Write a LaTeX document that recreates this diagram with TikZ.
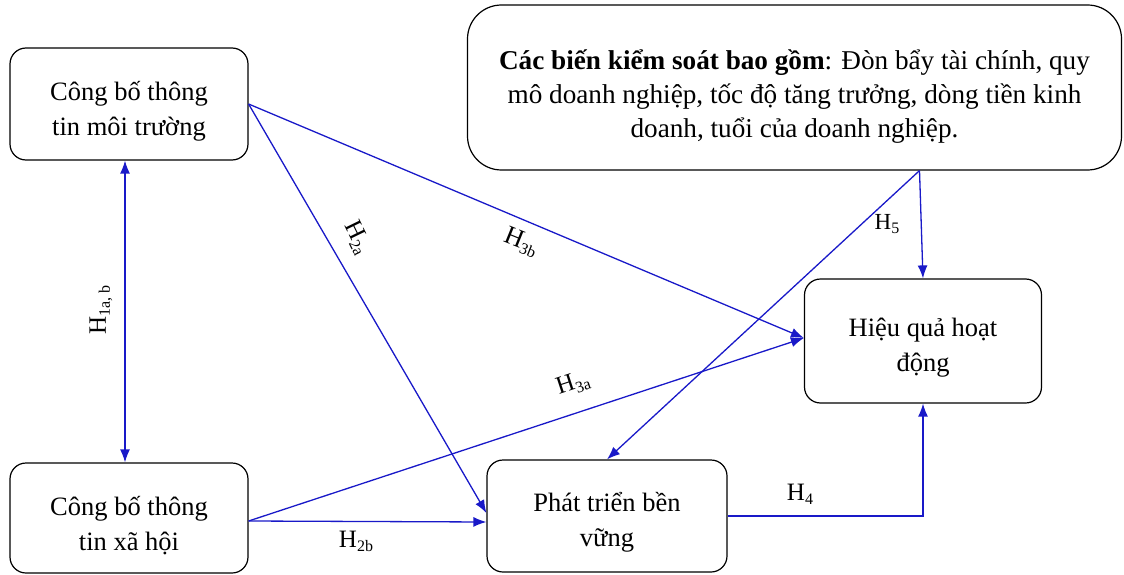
\documentclass[tikz,border=0pt]{standalone}
\usepackage{fontspec}
\setmainfont{Liberation Serif}
\usetikzlibrary{arrows.meta,calc}
\newcommand\hsb[1]{\raisebox{-0.35ex}{\fontsize{16}{18}\selectfont #1}}
\tikzset{
  box/.style={draw=black, line width=1.2pt, rounded corners=16pt, align=center, inner sep=0pt,
    font=\fontsize{26.5}{35}\selectfont},
  link/.style={draw={rgb,255:red,25;green,25;blue,200}, line width=1.3pt, -{Latex[length=13pt,width=10pt]}},
  lab/.style={font=\fontsize{25}{28}\selectfont, inner sep=1pt}
}
\begin{document}
\begin{tikzpicture}[x=1pt,y=1pt]
\useasboundingbox (0,0) rectangle (1124,-575);
\node[box, minimum width=238pt, minimum height=112pt] (A) at (129,-104) {\rule{0pt}{33pt}Công bố thông\\tin môi trường};
\node[box, minimum width=238pt, minimum height=110pt] (B) at (129,-518) {\rule{0pt}{34pt}Công bố thông\\tin xã hội};
\node[box, minimum width=240pt, minimum height=112pt] (C) at (607,-516) {\rule{0pt}{31pt}Phát triển bền\\vững};
\node[box, minimum width=237pt, minimum height=124pt] (D) at (923,-341) {\rule{0pt}{32pt}Hiệu quả hoạt\\động};
\node[box, rounded corners=34pt, minimum width=654pt, minimum height=165pt, font=\fontsize{27.2}{34}\selectfont] (E) at (794.5,-87.5)
  {\rule{0pt}{38pt}\textbf{Các biến kiểm soát bao gồm}: Đòn bẩy tài chính, quy\\mô doanh nghiệp, tốc độ tăng trưởng, dòng tiền kinh\\doanh, tuổi của doanh nghiệp.};
\coordinate (E5) at ($(E.south)+(125,0)$);
% H1
\draw[link, {Latex[length=13pt,width=10pt]}-{Latex[length=13pt,width=10pt]}] ([xshift=-4pt]A.south) -- ([xshift=-4pt]B.north);
\node[lab, rotate=90] (h1) at (101,-310) {H\hsb{1a, b}};
% H2a, H2b
\draw[link] (A.east) -- ([yshift=3pt]C.west);
\node[lab, rotate=-64] (h2a) at (357,-238) {H\hsb{2a}};
\draw[link] ([yshift=-3pt]B.east) -- ([yshift=-6pt]C.west);
\node[lab] (h2b) at (356,-541) {H\hsb{2b}};
% H3a, H3b
\draw[link] (A.east) -- ([yshift=3pt]D.west);
\node[lab, rotate=-22, font=\fontsize{26}{28}\selectfont] (h3b) at (521,-242) {H\hsb{3b}};
\draw[link] ([yshift=-3pt]B.east) -- ([yshift=3pt]D.west);
\node[lab, rotate=18] (h3a) at (573,-384) {H\hsb{3a}};
% H5
\draw[link] (E5) -- (D.north);
\draw[link] (E5) -- (C.north);
\node[lab, font=\fontsize{23}{24}\selectfont] (h5) at (887,-224) {H\hsb{5}};
% H4
\draw[link] (C.east) -| (D.south);
\node[lab] (h4) at (800,-494) {H\hsb{4}};
\end{tikzpicture}
\end{document}
